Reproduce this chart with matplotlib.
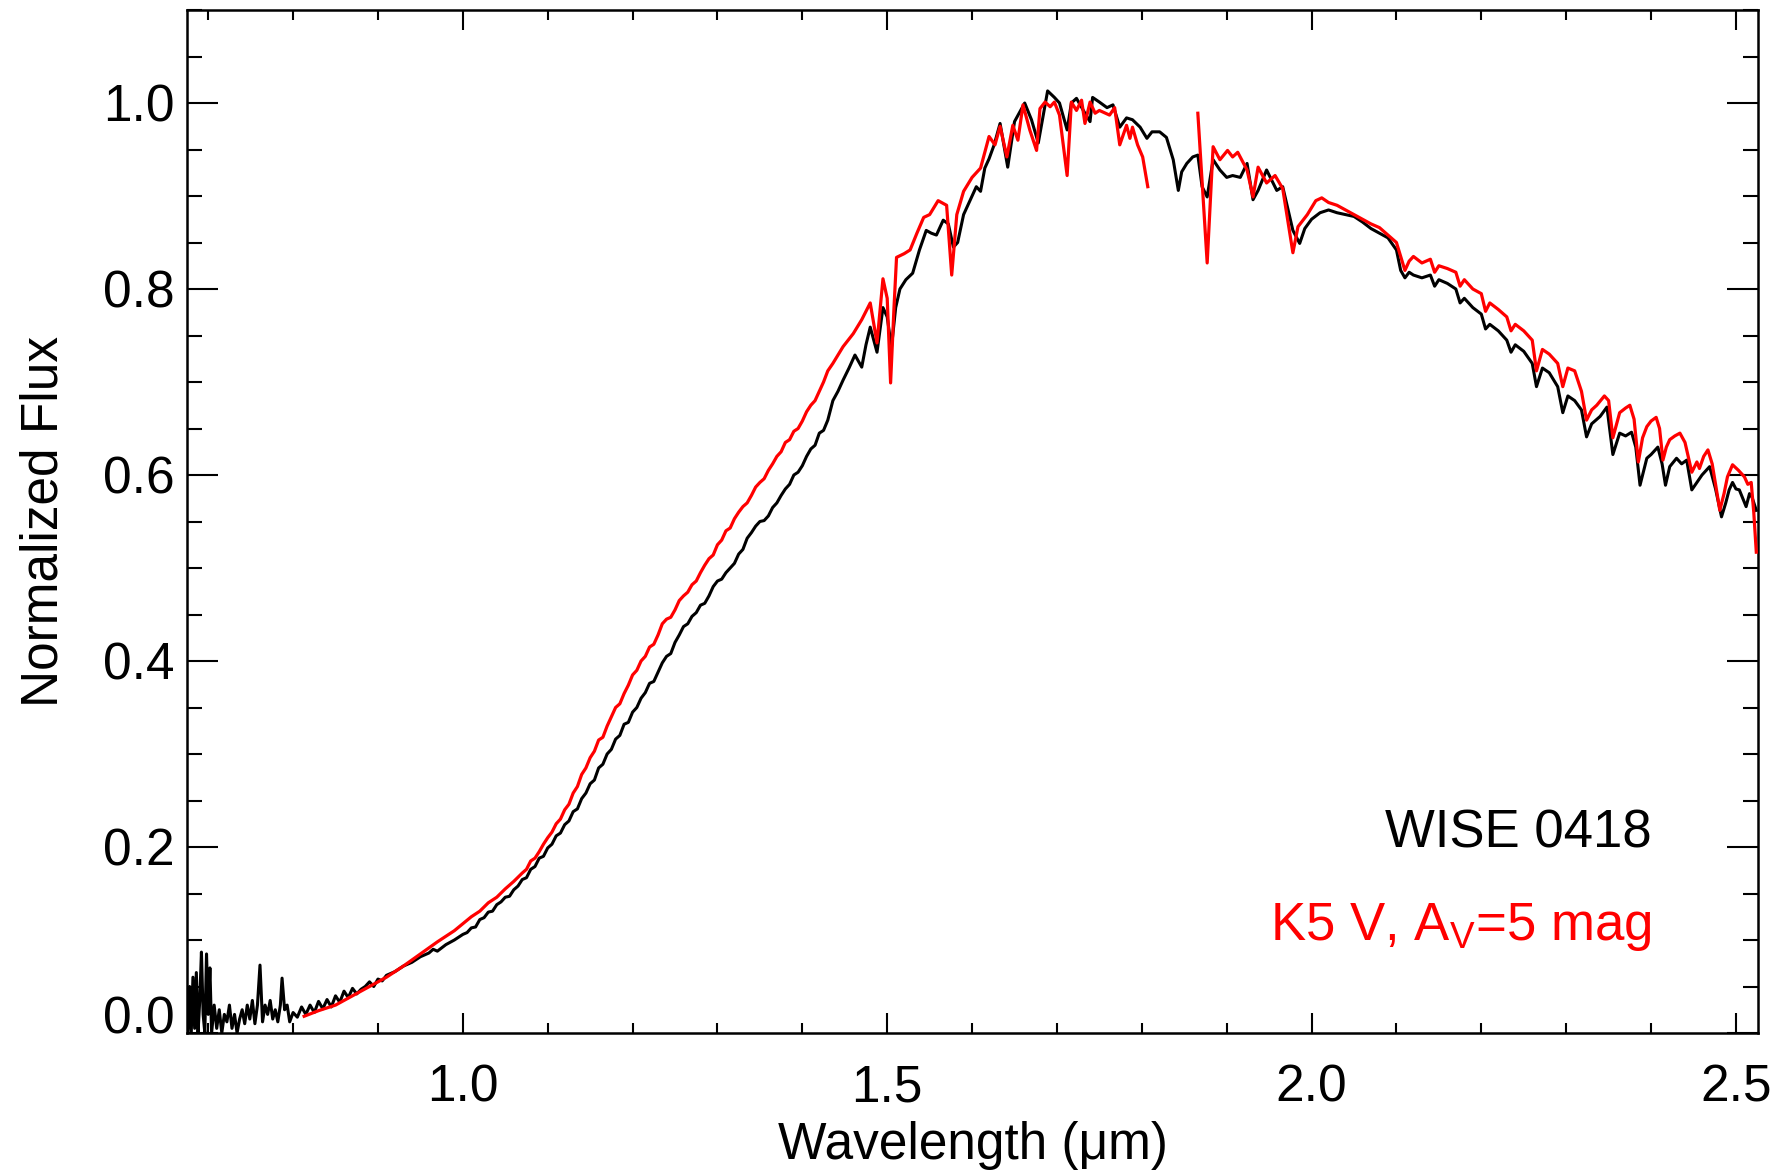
import numpy as np
import matplotlib
matplotlib.use("Agg")
import matplotlib.pyplot as plt
from matplotlib.ticker import MultipleLocator

plt.rcParams['font.family'] = ['Liberation Sans', 'DejaVu Sans']
plt.rcParams['mathtext.fontset'] = 'custom'
plt.rcParams['mathtext.rm'] = 'Liberation Sans'
plt.rcParams['mathtext.it'] = 'Liberation Sans:italic'

# ---------------- data ----------------
wise_wl = [
    0.676, 0.678, 0.680, 0.682, 0.684, 0.686, 0.688, 0.690, 0.692, 0.694,
    0.696, 0.698, 0.700, 0.702, 0.704, 0.707, 0.710, 0.713, 0.716, 0.719,
    0.722, 0.725, 0.728, 0.731, 0.734, 0.737, 0.740, 0.743, 0.746, 0.749,
    0.752, 0.755, 0.758, 0.761, 0.764, 0.767, 0.770, 0.773, 0.776, 0.779,
    0.782, 0.785, 0.787, 0.790, 0.793, 0.796, 0.800, 0.805, 0.810, 0.815,
    0.820, 0.825, 0.830, 0.835, 0.840, 0.845, 0.850, 0.855, 0.860, 0.865,
    0.870, 0.875, 0.880, 0.885, 0.890, 0.895, 0.900, 0.905, 0.910, 0.920,
    0.930, 0.940, 0.950, 0.960, 0.965, 0.970, 0.980, 0.990,
    1.000, 1.005, 1.010, 1.015, 1.020, 1.025, 1.030, 1.035, 1.040, 1.045,
    1.050, 1.055, 1.060, 1.065, 1.070, 1.075, 1.080, 1.085, 1.090, 1.095,
    1.100, 1.105, 1.110, 1.115, 1.120, 1.125, 1.130, 1.135, 1.140, 1.145,
    1.150, 1.155, 1.160, 1.165, 1.170, 1.175, 1.180, 1.185, 1.190, 1.195,
    1.200, 1.205, 1.210, 1.215, 1.220, 1.225, 1.230, 1.235, 1.240, 1.245,
    1.250, 1.255, 1.260, 1.265, 1.270, 1.275, 1.280, 1.285, 1.290, 1.295,
    1.300, 1.305, 1.310, 1.315, 1.320, 1.325, 1.330, 1.335, 1.340, 1.345,
    1.350, 1.355, 1.360, 1.365, 1.370, 1.375, 1.380, 1.385, 1.390, 1.395,
    1.400, 1.405, 1.410, 1.415, 1.420, 1.425, 1.430,
    1.436, 1.442, 1.448, 1.455, 1.462, 1.470, 1.475, 1.480,
    1.488, 1.495, 1.500, 1.505, 1.510, 1.515, 1.522, 1.530, 1.538, 1.546,
    1.552, 1.558, 1.566, 1.572, 1.578, 1.583, 1.590, 1.595, 1.600, 1.605,
    1.610, 1.615, 1.620, 1.626, 1.633, 1.642, 1.650, 1.662, 1.670, 1.678,
    1.689, 1.697, 1.703, 1.712, 1.717, 1.723, 1.733, 1.739, 1.742, 1.750,
    1.759, 1.766, 1.774, 1.782, 1.789, 1.798, 1.806, 1.812, 1.821, 1.829,
    1.837, 1.843, 1.847, 1.853, 1.860, 1.866, 1.871, 1.877, 1.884, 1.892,
    1.900, 1.907, 1.916, 1.924, 1.931, 1.937, 1.947, 1.959, 1.966, 1.978,
    1.986, 1.992, 2.000, 2.010, 2.020, 2.030, 2.040, 2.050, 2.060, 2.070,
    2.080, 2.090, 2.100, 2.105, 2.110, 2.115, 2.120, 2.130, 2.140, 2.145,
    2.150, 2.160, 2.170, 2.175, 2.180, 2.190, 2.200, 2.205, 2.210, 2.220,
    2.230, 2.235, 2.240, 2.250,
    2.260, 2.265, 2.272, 2.280, 2.290, 2.296, 2.302, 2.310, 2.318, 2.324,
    2.330, 2.340, 2.348, 2.355, 2.363, 2.370, 2.377, 2.382, 2.387, 2.395,
    2.400, 2.408, 2.413, 2.417, 2.422, 2.430, 2.436, 2.442, 2.448, 2.454,
    2.460, 2.469, 2.476, 2.483, 2.488, 2.492, 2.496, 2.500, 2.504, 2.508,
    2.512, 2.516, 2.519, 2.524,
]
wise_flux = [
    0.000, 0.050, 0.000, 0.060, 0.005, 0.065, 0.000, 0.035, 0.087, 0.020,
    0.000, 0.085, 0.020, 0.070, 0.000, 0.030, 0.005, 0.025, 0.000, 0.020,
    0.012, 0.030, 0.005, 0.020, 0.000, 0.015, 0.025, 0.010, 0.030, 0.015,
    0.035, 0.010, 0.030, 0.073, 0.012, 0.030, 0.020, 0.035, 0.015, 0.025,
    0.012, 0.030, 0.059, 0.025, 0.030, 0.012, 0.022, 0.017, 0.028, 0.020,
    0.030, 0.022, 0.034, 0.026, 0.036, 0.028, 0.040, 0.033, 0.045, 0.038,
    0.048, 0.042, 0.047, 0.050, 0.055, 0.050, 0.058, 0.056, 0.062, 0.066,
    0.072, 0.076, 0.082, 0.086, 0.090, 0.088, 0.095, 0.100,
    0.106, 0.108, 0.113, 0.114, 0.122, 0.124, 0.130, 0.131, 0.138, 0.141,
    0.146, 0.147, 0.154, 0.158, 0.165, 0.167, 0.176, 0.179, 0.188, 0.190,
    0.199, 0.203, 0.212, 0.215, 0.224, 0.228, 0.238, 0.241, 0.252, 0.258,
    0.268, 0.272, 0.285, 0.289, 0.300, 0.305, 0.316, 0.320, 0.332, 0.334,
    0.345, 0.350, 0.360, 0.366, 0.376, 0.378, 0.388, 0.398, 0.405, 0.408,
    0.420, 0.428, 0.437, 0.440, 0.448, 0.452, 0.460, 0.462, 0.470, 0.480,
    0.486, 0.488, 0.495, 0.500, 0.505, 0.515, 0.520, 0.532, 0.538, 0.545,
    0.550, 0.551, 0.556, 0.565, 0.570, 0.578, 0.585, 0.590, 0.600, 0.603,
    0.610, 0.620, 0.628, 0.632, 0.645, 0.648, 0.659,
    0.680, 0.690, 0.702, 0.715, 0.729, 0.716, 0.740, 0.759,
    0.732, 0.780, 0.770, 0.737, 0.780, 0.800, 0.810, 0.817, 0.842, 0.863,
    0.860, 0.858, 0.874, 0.870, 0.845, 0.850, 0.880, 0.890, 0.900, 0.910,
    0.905, 0.930, 0.940, 0.955, 0.978, 0.931, 0.980, 1.000, 0.982, 0.957,
    1.013, 1.006, 1.000, 0.971, 1.000, 1.005, 0.989, 0.980, 1.006, 1.001,
    0.995, 0.998, 0.974, 0.984, 0.982, 0.974, 0.962, 0.969, 0.969, 0.963,
    0.939, 0.906, 0.926, 0.935, 0.942, 0.944, 0.910, 0.899, 0.939, 0.928,
    0.920, 0.922, 0.920, 0.935, 0.896, 0.906, 0.928, 0.906, 0.910, 0.863,
    0.849, 0.865, 0.875, 0.882, 0.885, 0.882, 0.880, 0.878, 0.872, 0.865,
    0.860, 0.855, 0.842, 0.820, 0.812, 0.818, 0.815, 0.812, 0.815, 0.803,
    0.810, 0.806, 0.800, 0.785, 0.790, 0.780, 0.773, 0.757, 0.762, 0.755,
    0.745, 0.732, 0.740, 0.733,
    0.720, 0.695, 0.715, 0.710, 0.695, 0.667, 0.685, 0.680, 0.670, 0.641,
    0.655, 0.663, 0.673, 0.622, 0.645, 0.642, 0.646, 0.630, 0.589, 0.618,
    0.622, 0.630, 0.612, 0.589, 0.609, 0.618, 0.612, 0.616, 0.584, 0.592,
    0.600, 0.609, 0.585, 0.555, 0.570, 0.584, 0.592, 0.585, 0.584, 0.575,
    0.566, 0.580, 0.576, 0.562,
]

# K5 V template (two pieces, gap in the telluric band)
k5_wl_a = [
    0.813, 0.830, 0.850, 0.870, 0.890, 0.910, 0.930, 0.950, 0.970, 0.990,
    1.010, 1.020, 1.030, 1.040, 1.050, 1.060, 1.070, 1.075, 1.080, 1.085,
    1.090, 1.095, 1.100, 1.105, 1.110, 1.115, 1.120, 1.125, 1.130, 1.135,
    1.140, 1.145, 1.150, 1.155, 1.160, 1.165, 1.170, 1.175, 1.180, 1.185,
    1.190, 1.195, 1.200, 1.205, 1.210, 1.215, 1.220, 1.225, 1.230, 1.235,
    1.240, 1.245, 1.250, 1.255, 1.260, 1.265, 1.270, 1.275, 1.280, 1.285,
    1.290, 1.295, 1.300, 1.305, 1.310, 1.315, 1.320, 1.325, 1.330, 1.335,
    1.340, 1.345, 1.350, 1.355, 1.360, 1.365, 1.370, 1.375, 1.380, 1.385,
    1.390, 1.395, 1.400, 1.405, 1.410, 1.415, 1.420, 1.425, 1.430,
    1.436, 1.448, 1.460, 1.470, 1.480, 1.488, 1.495, 1.500, 1.504, 1.508,
    1.511, 1.520, 1.527, 1.535, 1.543, 1.550, 1.560, 1.570, 1.576, 1.582,
    1.590, 1.600, 1.610, 1.620, 1.627, 1.633, 1.641, 1.648, 1.654, 1.660,
    1.668, 1.676, 1.680, 1.686, 1.692, 1.697, 1.703, 1.712, 1.717, 1.723,
    1.729, 1.733, 1.739, 1.745, 1.750, 1.762, 1.768, 1.774, 1.782, 1.786,
    1.789, 1.795, 1.801, 1.807,
]
k5_flux_a = [
    0.018, 0.024, 0.030, 0.040, 0.050, 0.060, 0.072, 0.085, 0.098, 0.110,
    0.125, 0.131, 0.140, 0.146, 0.155, 0.163, 0.172, 0.176, 0.185, 0.188,
    0.195, 0.203, 0.210, 0.216, 0.225, 0.230, 0.240, 0.246, 0.258, 0.265,
    0.278, 0.285, 0.296, 0.303, 0.315, 0.318, 0.330, 0.340, 0.350, 0.354,
    0.365, 0.374, 0.385, 0.390, 0.400, 0.405, 0.415, 0.418, 0.428, 0.440,
    0.445, 0.447, 0.455, 0.465, 0.470, 0.474, 0.482, 0.486, 0.495, 0.503,
    0.510, 0.514, 0.525, 0.530, 0.540, 0.543, 0.553, 0.560, 0.566, 0.570,
    0.578, 0.587, 0.592, 0.596, 0.605, 0.612, 0.620, 0.625, 0.635, 0.638,
    0.647, 0.650, 0.658, 0.668, 0.675, 0.680, 0.690, 0.700, 0.712,
    0.720, 0.738, 0.752, 0.767, 0.785, 0.742, 0.811, 0.790, 0.699, 0.780,
    0.834, 0.838, 0.842, 0.860, 0.877, 0.880, 0.895, 0.890, 0.815, 0.880,
    0.905, 0.920, 0.930, 0.964, 0.955, 0.975, 0.942, 0.976, 0.960, 0.998,
    0.971, 0.949, 0.994, 1.001, 0.996, 1.001, 0.987, 0.922, 1.001, 0.992,
    1.003, 0.978, 1.001, 0.989, 0.992, 0.987, 0.995, 0.955, 0.976, 0.962,
    0.974, 0.955, 0.942, 0.910,
]
k5_wl_b = [
    1.866, 1.877, 1.884, 1.892, 1.901, 1.907, 1.913, 1.924, 1.931, 1.937,
    1.947, 1.957, 1.966, 1.978, 1.984, 1.995, 2.005, 2.012, 2.020, 2.030,
    2.040, 2.050, 2.060, 2.070, 2.080, 2.090, 2.100, 2.105, 2.110, 2.115,
    2.120, 2.130, 2.140, 2.145, 2.150, 2.160, 2.170, 2.175, 2.180, 2.190,
    2.200, 2.205, 2.210, 2.220, 2.230, 2.235, 2.240, 2.250,
    2.260, 2.265, 2.272, 2.280, 2.290, 2.296,
    2.302, 2.310, 2.318, 2.324, 2.330, 2.336, 2.345, 2.350, 2.355, 2.363,
    2.370, 2.375, 2.380, 2.385, 2.390, 2.395, 2.400, 2.406, 2.410, 2.414,
    2.418, 2.422, 2.428, 2.434, 2.440, 2.448, 2.454, 2.457, 2.462, 2.467,
    2.472, 2.476, 2.481, 2.486, 2.490, 2.496, 2.503, 2.510, 2.514, 2.518,
    2.521, 2.524,
]
k5_flux_b = [
    0.989, 0.828, 0.953, 0.939, 0.949, 0.942, 0.947, 0.928, 0.899, 0.931,
    0.914, 0.922, 0.908, 0.839, 0.867, 0.880, 0.895, 0.898, 0.893, 0.890,
    0.885, 0.880, 0.875, 0.870, 0.866, 0.858, 0.850, 0.835, 0.820, 0.830,
    0.835, 0.828, 0.832, 0.818, 0.825, 0.822, 0.818, 0.803, 0.810, 0.800,
    0.795, 0.776, 0.785, 0.778, 0.770, 0.755, 0.762, 0.755,
    0.745, 0.712, 0.735, 0.730, 0.720, 0.695,
    0.715, 0.712, 0.690, 0.659, 0.670, 0.675, 0.685, 0.680, 0.640, 0.667,
    0.672, 0.675, 0.660, 0.614, 0.640, 0.652, 0.658, 0.662, 0.650, 0.616,
    0.630, 0.638, 0.642, 0.645, 0.635, 0.603, 0.614, 0.607, 0.620, 0.627,
    0.612, 0.590, 0.562, 0.580, 0.598, 0.611, 0.605, 0.598, 0.590, 0.592,
    0.560, 0.517,
]

x_major = [1.0, 1.5, 2.0, 2.5]
y_major = [0.0, 0.2, 0.4, 0.6, 0.8, 1.0]
label_obj = "WISE 0418"
label_tpl = r"K5 V, A$_\mathrm{V}$=5 mag"

# ---------------- figure ----------------
fig = plt.figure(figsize=(17.79, 11.71), dpi=100)
ax = fig.add_axes([187/1779, 1 - 1033/1171, (1758-187)/1779, (1033-10)/1171])

ax.plot(wise_wl, wise_flux, color='black', lw=2.2, zorder=2)
ax.plot(k5_wl_a, k5_flux_a, color='#ff0000', lw=2.3, zorder=3)
ax.plot(k5_wl_b, k5_flux_b, color='#ff0000', lw=2.3, zorder=3)

ax.set_xlim(0.675, 2.526)
ax.set_ylim(0.0, 1.1)

ax.set_xticks(x_major)
ax.set_xticklabels([f"{v:.1f}" for v in x_major])
ax.xaxis.set_minor_locator(MultipleLocator(0.1))
ax.set_yticks(y_major)
ax.set_yticklabels([f"{v:.1f}" for v in y_major])
ax.yaxis.set_minor_locator(MultipleLocator(0.05))

ax.tick_params(axis='both', which='both', direction='in', top=True, right=True,
               width=1.5, labelsize=37)
ax.tick_params(axis='x', which='major', length=14.4, pad=22)
ax.tick_params(axis='x', which='minor', length=7.2)
ax.tick_params(axis='y', which='major', length=22.3, pad=9)
ax.tick_params(axis='y', which='minor', length=10.8)
for s in ax.spines.values():
    s.set_linewidth(1.8)

ax.yaxis.get_major_ticks()[0].label1.set_verticalalignment('baseline')

ax.set_xlabel("Wavelength (μm)", fontsize=37, labelpad=6)
ax.set_ylabel("Normalized Flux", fontsize=37, labelpad=25)

ax.text(0.932, 0.181, label_obj, transform=ax.transAxes, ha='right',
        va='baseline', fontsize=38, color='black')
ax.text(0.932, 0.091, label_tpl, transform=ax.transAxes, ha='right',
        va='baseline', fontsize=38, color='#ff0000')

fig.savefig("out.png", dpi=100)
